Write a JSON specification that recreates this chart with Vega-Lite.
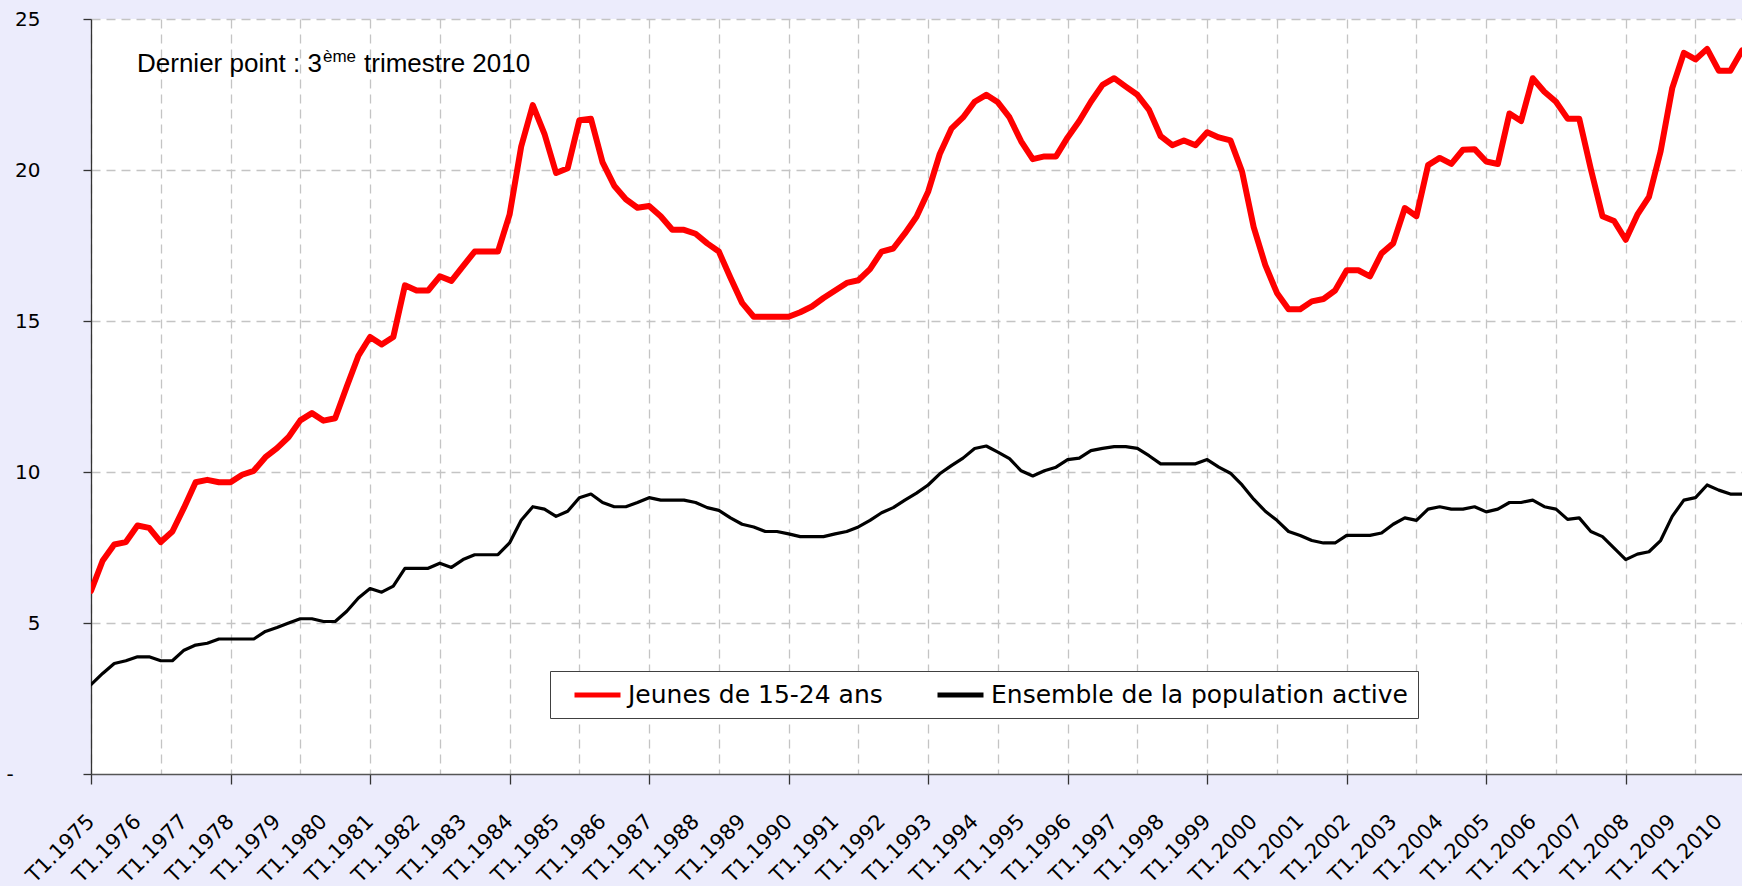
{
  "$schema": "https://vega.github.io/schema/vega-lite/v6.json",
  "width": 1651,
  "height": 755,
  "autosize": {"type": "none"},
  "padding": {"left": 91, "top": 19, "right": 0, "bottom": 112},
  "background": "#ececfc",
  "config": {
    "font": "DejaVu Sans",
    "view": {"stroke": null, "fill": "white"}
  },
  "resolve": {"axis": {"x": "independent", "y": "independent"}},
  "data": {
    "values": [
      {"q":"T1.1975","i":0,"jeunes":6.06,"ensemble":2.96},
      {"q":"T2.1975","i":1,"jeunes":7.06,"ensemble":3.33},
      {"q":"T3.1975","i":2,"jeunes":7.60,"ensemble":3.66},
      {"q":"T4.1975","i":3,"jeunes":7.68,"ensemble":3.75},
      {"q":"T1.1976","i":4,"jeunes":8.23,"ensemble":3.88},
      {"q":"T2.1976","i":5,"jeunes":8.15,"ensemble":3.88},
      {"q":"T3.1976","i":6,"jeunes":7.68,"ensemble":3.75},
      {"q":"T4.1976","i":7,"jeunes":8.03,"ensemble":3.75},
      {"q":"T1.1977","i":8,"jeunes":8.82,"ensemble":4.10},
      {"q":"T2.1977","i":9,"jeunes":9.66,"ensemble":4.27},
      {"q":"T3.1977","i":10,"jeunes":9.74,"ensemble":4.33},
      {"q":"T4.1977","i":11,"jeunes":9.66,"ensemble":4.47},
      {"q":"T1.1978","i":12,"jeunes":9.66,"ensemble":4.47},
      {"q":"T2.1978","i":13,"jeunes":9.91,"ensemble":4.47},
      {"q":"T3.1978","i":14,"jeunes":10.04,"ensemble":4.47},
      {"q":"T4.1978","i":15,"jeunes":10.49,"ensemble":4.72},
      {"q":"T1.1979","i":16,"jeunes":10.79,"ensemble":4.85},
      {"q":"T2.1979","i":17,"jeunes":11.16,"ensemble":5.00},
      {"q":"T3.1979","i":18,"jeunes":11.71,"ensemble":5.14},
      {"q":"T4.1979","i":19,"jeunes":11.95,"ensemble":5.14},
      {"q":"T1.1980","i":20,"jeunes":11.70,"ensemble":5.05},
      {"q":"T2.1980","i":21,"jeunes":11.78,"ensemble":5.05},
      {"q":"T3.1980","i":22,"jeunes":12.83,"ensemble":5.39},
      {"q":"T4.1980","i":23,"jeunes":13.85,"ensemble":5.83},
      {"q":"T1.1981","i":24,"jeunes":14.47,"ensemble":6.14},
      {"q":"T2.1981","i":25,"jeunes":14.22,"ensemble":6.02},
      {"q":"T3.1981","i":26,"jeunes":14.47,"ensemble":6.22},
      {"q":"T4.1981","i":27,"jeunes":16.18,"ensemble":6.81},
      {"q":"T1.1982","i":28,"jeunes":16.01,"ensemble":6.81},
      {"q":"T2.1982","i":29,"jeunes":16.01,"ensemble":6.81},
      {"q":"T3.1982","i":30,"jeunes":16.48,"ensemble":6.98},
      {"q":"T4.1982","i":31,"jeunes":16.33,"ensemble":6.84},
      {"q":"T1.1983","i":32,"jeunes":16.82,"ensemble":7.10},
      {"q":"T2.1983","i":33,"jeunes":17.30,"ensemble":7.26},
      {"q":"T3.1983","i":34,"jeunes":17.30,"ensemble":7.26},
      {"q":"T4.1983","i":35,"jeunes":17.30,"ensemble":7.26},
      {"q":"T1.1984","i":36,"jeunes":18.52,"ensemble":7.65},
      {"q":"T2.1984","i":37,"jeunes":20.78,"ensemble":8.40},
      {"q":"T3.1984","i":38,"jeunes":22.15,"ensemble":8.85},
      {"q":"T4.1984","i":39,"jeunes":21.20,"ensemble":8.77},
      {"q":"T1.1985","i":40,"jeunes":19.90,"ensemble":8.53},
      {"q":"T2.1985","i":41,"jeunes":20.06,"ensemble":8.70},
      {"q":"T3.1985","i":42,"jeunes":21.65,"ensemble":9.15},
      {"q":"T4.1985","i":43,"jeunes":21.70,"ensemble":9.27},
      {"q":"T1.1986","i":44,"jeunes":20.25,"ensemble":8.99},
      {"q":"T2.1986","i":45,"jeunes":19.48,"ensemble":8.85},
      {"q":"T3.1986","i":46,"jeunes":19.03,"ensemble":8.85},
      {"q":"T4.1986","i":47,"jeunes":18.75,"ensemble":8.99},
      {"q":"T1.1987","i":48,"jeunes":18.81,"ensemble":9.15},
      {"q":"T2.1987","i":49,"jeunes":18.47,"ensemble":9.07},
      {"q":"T3.1987","i":50,"jeunes":18.02,"ensemble":9.07},
      {"q":"T4.1987","i":51,"jeunes":18.02,"ensemble":9.07},
      {"q":"T1.1988","i":52,"jeunes":17.89,"ensemble":8.99},
      {"q":"T2.1988","i":53,"jeunes":17.57,"ensemble":8.82},
      {"q":"T3.1988","i":54,"jeunes":17.30,"ensemble":8.73},
      {"q":"T4.1988","i":55,"jeunes":16.43,"ensemble":8.48},
      {"q":"T1.1989","i":56,"jeunes":15.60,"ensemble":8.27},
      {"q":"T2.1989","i":57,"jeunes":15.14,"ensemble":8.18},
      {"q":"T3.1989","i":58,"jeunes":15.14,"ensemble":8.03},
      {"q":"T4.1989","i":59,"jeunes":15.14,"ensemble":8.03},
      {"q":"T1.1990","i":60,"jeunes":15.14,"ensemble":7.95},
      {"q":"T2.1990","i":61,"jeunes":15.29,"ensemble":7.86},
      {"q":"T3.1990","i":62,"jeunes":15.48,"ensemble":7.86},
      {"q":"T4.1990","i":63,"jeunes":15.76,"ensemble":7.86},
      {"q":"T1.1991","i":64,"jeunes":16.01,"ensemble":7.95},
      {"q":"T2.1991","i":65,"jeunes":16.26,"ensemble":8.03},
      {"q":"T3.1991","i":66,"jeunes":16.35,"ensemble":8.18},
      {"q":"T4.1991","i":67,"jeunes":16.72,"ensemble":8.40},
      {"q":"T1.1992","i":68,"jeunes":17.30,"ensemble":8.65},
      {"q":"T2.1992","i":69,"jeunes":17.40,"ensemble":8.82},
      {"q":"T3.1992","i":70,"jeunes":17.90,"ensemble":9.07},
      {"q":"T4.1992","i":71,"jeunes":18.45,"ensemble":9.30},
      {"q":"T1.1993","i":72,"jeunes":19.28,"ensemble":9.57},
      {"q":"T2.1993","i":73,"jeunes":20.53,"ensemble":9.94},
      {"q":"T3.1993","i":74,"jeunes":21.37,"ensemble":10.21},
      {"q":"T4.1993","i":75,"jeunes":21.74,"ensemble":10.46},
      {"q":"T1.1994","i":76,"jeunes":22.26,"ensemble":10.78},
      {"q":"T2.1994","i":77,"jeunes":22.49,"ensemble":10.86},
      {"q":"T3.1994","i":78,"jeunes":22.24,"ensemble":10.66},
      {"q":"T4.1994","i":79,"jeunes":21.74,"ensemble":10.44},
      {"q":"T1.1995","i":80,"jeunes":20.95,"ensemble":10.04},
      {"q":"T2.1995","i":81,"jeunes":20.36,"ensemble":9.87},
      {"q":"T3.1995","i":82,"jeunes":20.45,"ensemble":10.04},
      {"q":"T4.1995","i":83,"jeunes":20.45,"ensemble":10.16},
      {"q":"T1.1996","i":84,"jeunes":21.08,"ensemble":10.41},
      {"q":"T2.1996","i":85,"jeunes":21.62,"ensemble":10.46},
      {"q":"T3.1996","i":86,"jeunes":22.26,"ensemble":10.71},
      {"q":"T4.1996","i":87,"jeunes":22.82,"ensemble":10.78},
      {"q":"T1.1997","i":88,"jeunes":23.04,"ensemble":10.84},
      {"q":"T2.1997","i":89,"jeunes":22.76,"ensemble":10.84},
      {"q":"T3.1997","i":90,"jeunes":22.49,"ensemble":10.78},
      {"q":"T4.1997","i":91,"jeunes":21.99,"ensemble":10.54},
      {"q":"T1.1998","i":92,"jeunes":21.12,"ensemble":10.27},
      {"q":"T2.1998","i":93,"jeunes":20.82,"ensemble":10.27},
      {"q":"T3.1998","i":94,"jeunes":20.98,"ensemble":10.27},
      {"q":"T4.1998","i":95,"jeunes":20.82,"ensemble":10.27},
      {"q":"T1.1999","i":96,"jeunes":21.25,"ensemble":10.41},
      {"q":"T2.1999","i":97,"jeunes":21.08,"ensemble":10.16},
      {"q":"T3.1999","i":98,"jeunes":20.98,"ensemble":9.96},
      {"q":"T4.1999","i":99,"jeunes":19.95,"ensemble":9.57},
      {"q":"T1.2000","i":100,"jeunes":18.11,"ensemble":9.10},
      {"q":"T2.2000","i":101,"jeunes":16.85,"ensemble":8.70},
      {"q":"T3.2000","i":102,"jeunes":15.93,"ensemble":8.40},
      {"q":"T4.2000","i":103,"jeunes":15.39,"ensemble":8.03},
      {"q":"T1.2001","i":104,"jeunes":15.39,"ensemble":7.90},
      {"q":"T2.2001","i":105,"jeunes":15.65,"ensemble":7.73},
      {"q":"T3.2001","i":106,"jeunes":15.73,"ensemble":7.65},
      {"q":"T4.2001","i":107,"jeunes":16.01,"ensemble":7.65},
      {"q":"T1.2002","i":108,"jeunes":16.68,"ensemble":7.90},
      {"q":"T2.2002","i":109,"jeunes":16.68,"ensemble":7.90},
      {"q":"T3.2002","i":110,"jeunes":16.48,"ensemble":7.90},
      {"q":"T4.2002","i":111,"jeunes":17.24,"ensemble":7.98},
      {"q":"T1.2003","i":112,"jeunes":17.57,"ensemble":8.27},
      {"q":"T2.2003","i":113,"jeunes":18.74,"ensemble":8.48},
      {"q":"T3.2003","i":114,"jeunes":18.47,"ensemble":8.40},
      {"q":"T4.2003","i":115,"jeunes":20.16,"ensemble":8.77},
      {"q":"T1.2004","i":116,"jeunes":20.40,"ensemble":8.85},
      {"q":"T2.2004","i":117,"jeunes":20.20,"ensemble":8.77},
      {"q":"T3.2004","i":118,"jeunes":20.67,"ensemble":8.77},
      {"q":"T4.2004","i":119,"jeunes":20.69,"ensemble":8.85},
      {"q":"T1.2005","i":120,"jeunes":20.28,"ensemble":8.68},
      {"q":"T2.2005","i":121,"jeunes":20.20,"ensemble":8.77},
      {"q":"T3.2005","i":122,"jeunes":21.87,"ensemble":8.99},
      {"q":"T4.2005","i":123,"jeunes":21.62,"ensemble":8.99},
      {"q":"T1.2006","i":124,"jeunes":23.04,"ensemble":9.07},
      {"q":"T2.2006","i":125,"jeunes":22.59,"ensemble":8.85},
      {"q":"T3.2006","i":126,"jeunes":22.26,"ensemble":8.77},
      {"q":"T4.2006","i":127,"jeunes":21.70,"ensemble":8.43},
      {"q":"T1.2007","i":128,"jeunes":21.70,"ensemble":8.48},
      {"q":"T2.2007","i":129,"jeunes":20.03,"ensemble":8.03},
      {"q":"T3.2007","i":130,"jeunes":18.47,"ensemble":7.86},
      {"q":"T4.2007","i":131,"jeunes":18.31,"ensemble":7.48},
      {"q":"T1.2008","i":132,"jeunes":17.69,"ensemble":7.10},
      {"q":"T2.2008","i":133,"jeunes":18.52,"ensemble":7.28},
      {"q":"T3.2008","i":134,"jeunes":19.11,"ensemble":7.36},
      {"q":"T4.2008","i":135,"jeunes":20.62,"ensemble":7.73},
      {"q":"T1.2009","i":136,"jeunes":22.71,"ensemble":8.53},
      {"q":"T2.2009","i":137,"jeunes":23.88,"ensemble":9.07},
      {"q":"T3.2009","i":138,"jeunes":23.66,"ensemble":9.15},
      {"q":"T4.2009","i":139,"jeunes":24.01,"ensemble":9.57},
      {"q":"T1.2010","i":140,"jeunes":23.29,"ensemble":9.40},
      {"q":"T2.2010","i":141,"jeunes":23.29,"ensemble":9.27},
      {"q":"T3.2010","i":142,"jeunes":23.96,"ensemble":9.27}
    ]
  },
  "layer": [
    {
      "transform": [{"fold": ["jeunes", "ensemble"], "as": ["cle", "taux"]}],
      "mark": {"type": "line", "strokeJoin": "round", "strokeCap": "round", "clip": true},
      "encoding": {
        "x": {
          "field": "i",
          "type": "quantitative",
          "scale": {"domain": [0, 142], "nice": false, "zero": false},
          "axis": {
            "orient": "bottom",
            "title": null,
            "values": [0,4,6,8,12,16,18,20,24,28,30,32,36,40,42,44,48,52,54,56,60,64,66,68,72,76,78,80,84,88,90,92,96,100,102,104,108,112,114,116,120,124,126,128,132,136,138,140],
            "labelExpr": "datum.value % 4 == 0 ? 'T1.' + (1975 + datum.value / 4) : ''",
            "labelAngle": -45,
            "labelAlign": "right",
            "labelBaseline": "middle",
            "labelFont": "DejaVu Sans",
            "labelFontSize": 21,
            "labelColor": "#000000",
            "labelPadding": 34,
            "labelOverlap": false,
            "labelFlush": false,
            "labelBound": false,
            "grid": true,
            "gridColor": "#c4c4c4",
            "gridDash": [9, 6],
            "gridWidth": 1.3,
            "gridOpacity": {"condition": {"test": "datum.value % 6 != 0", "value": 0}, "value": 1},
            "ticks": true,
            "tickSize": 10,
            "tickWidth": 1.3,
            "tickColor": "#333333",
            "tickOpacity": {"condition": {"test": "datum.value % 12 != 0", "value": 0}, "value": 1},
            "domainColor": "#555555",
            "domainWidth": 1.5
          }
        },
        "y": {
          "field": "taux",
          "type": "quantitative",
          "scale": {"domain": [0, 25], "nice": false},
          "axis": {
            "orient": "left",
            "title": null,
            "values": [0, 5, 10, 15, 20, 25],
            "labelExpr": "datum.value == 0 ? '-' : datum.label",
            "labelFont": "DejaVu Sans",
            "labelFontSize": 20,
            "labelColor": "#000000",
            "labelAlign": {"condition": {"test": "datum.value == 0", "value": "left"}, "value": "right"},
            "labelPadding": {"condition": {"test": "datum.value == 0", "value": 77}, "value": 43},
            "grid": true,
            "gridColor": "#c4c4c4",
            "gridDash": [9, 6],
            "gridWidth": 1.3,
            "gridOpacity": {"condition": {"test": "datum.value == 0", "value": 0}, "value": 1},
            "tickSize": 8,
            "tickWidth": 1.3,
            "tickColor": "#333333",
            "domainColor": "#333333",
            "domainWidth": 1.3
          }
        },
        "color": {
          "field": "cle",
          "type": "nominal",
          "scale": {"domain": ["jeunes", "ensemble"], "range": ["#ff0000", "#000000"]},
          "legend": {
            "orient": "none",
            "legendX": 459,
            "legendY": 652,
            "direction": "horizontal",
            "title": null,
            "fillColor": "#ffffff",
            "strokeColor": "#404040",
            "padding": 10,
            "symbolType": "M-1,0H3",
            "symbolSize": 529,
            "symbolStrokeWidth": 5,
            "symbolOffset": 12,
            "labelFont": "DejaVu Sans",
            "labelFontSize": 25,
            "labelColor": "#000000",
            "labelLimit": 0,
            "labelOffset": 28,
            "columnPadding": 40,
            "labelExpr": "datum.value == 'jeunes' ? 'Jeunes de 15-24 ans' : 'Ensemble de la population active'"
          }
        },
        "strokeWidth": {"condition": {"test": "datum.cle == 'jeunes'", "value": 6}, "value": 3.2}
      }
    },
    {
      "data": {"values": [{}]},
      "mark": {"type": "text", "text": "Dernier point : 3", "font": "Liberation Sans", "fontSize": 26, "align": "left", "baseline": "alphabetic", "color": "#000000"},
      "encoding": {
        "x": {"datum": 3.956, "type": "quantitative", "axis": null},
        "y": {"datum": 23.245, "type": "quantitative", "axis": null}
      }
    },
    {
      "data": {"values": [{}]},
      "mark": {"type": "text", "text": "ème", "font": "Liberation Sans", "fontSize": 17, "align": "left", "baseline": "alphabetic", "color": "#000000"},
      "encoding": {
        "x": {"datum": 19.95, "type": "quantitative", "axis": null},
        "y": {"datum": 23.58, "type": "quantitative", "axis": null}
      }
    },
    {
      "data": {"values": [{}]},
      "mark": {"type": "text", "text": "trimestre 2010", "font": "Liberation Sans", "fontSize": 26, "align": "left", "baseline": "alphabetic", "color": "#000000"},
      "encoding": {
        "x": {"datum": 23.48, "type": "quantitative", "axis": null},
        "y": {"datum": 23.245, "type": "quantitative", "axis": null}
      }
    }
  ]
}
